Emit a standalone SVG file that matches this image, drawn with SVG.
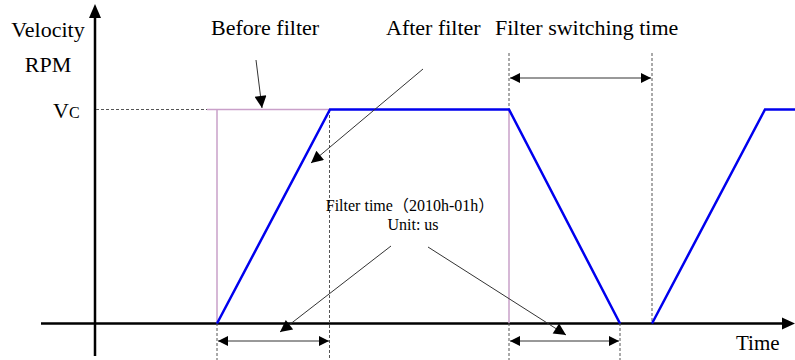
<svg xmlns="http://www.w3.org/2000/svg" width="795" height="360" viewBox="0 0 795 360">
<style>
text{font-family:"Liberation Serif","Times New Roman",serif;fill:#000}
.big{font-size:22px}
.small{font-size:16px}
.axis{stroke:#000;stroke-width:2.5;fill:none}
.dot{stroke:#555;stroke-width:1;stroke-dasharray:3,2;fill:none}
.pink{stroke:#c9a0c9;stroke-width:1.5;fill:none}
.blue{stroke:#0000ee;stroke-width:2.5;fill:none;stroke-linejoin:miter}
.thin{stroke:#333;stroke-width:1;fill:none}
</style>
<defs>
<marker id="ah" viewBox="0 0 10 10" refX="10" refY="5" markerWidth="14" markerHeight="10" markerUnits="userSpaceOnUse" orient="auto-start-reverse">
<path d="M0,0 L10,5 L0,10 z" fill="#000"/>
</marker>
<marker id="ahb" viewBox="0 0 10 10" refX="10" refY="5" markerWidth="16" markerHeight="12" markerUnits="userSpaceOnUse" orient="auto">
<path d="M0,0 L10,5 L0,10 z" fill="#000"/>
</marker>
</defs>
<g id="axes">
<line class="axis" x1="95" y1="356" x2="95" y2="18"/>
<path d="M95,4 L89,18 L101,18 z" fill="#000"/>
<line class="axis" x1="41" y1="323.5" x2="783" y2="323.5"/>
<path d="M795,323.5 L782,317.5 L782,329.5 z" fill="#000"/>
</g>
<g id="guides">
<line class="dot" x1="96" y1="109.5" x2="207" y2="109.5"/>
<line class="pink" x1="207" y1="109.5" x2="330" y2="109.5"/>
<line class="pink" x1="217" y1="109.5" x2="217" y2="323"/>
<line class="pink" x1="509" y1="109.5" x2="509" y2="323"/>
<line class="dot" x1="217" y1="323" x2="217" y2="360"/>
<line class="dot" x1="329.5" y1="110" x2="329.5" y2="360"/>
<line class="dot" x1="509" y1="53" x2="509" y2="109"/>
<line class="dot" x1="509" y1="323" x2="509" y2="360"/>
<line class="dot" x1="620" y1="323" x2="620" y2="360"/>
<line class="dot" x1="652" y1="53" x2="652" y2="323"/>
</g>
<g id="velocity">
<polyline class="blue" points="217,323.5 330,109.5 509,109.5 620,323.5"/>
<polyline class="blue" points="652,323.5 765,109.5 795,109.5"/>
</g>
<g id="connectors">
<line class="thin" x1="256" y1="60" x2="262" y2="108" marker-end="url(#ahb)"/>
<line class="thin" x1="423" y1="69" x2="311" y2="163" marker-end="url(#ahb)"/>
<line class="thin" x1="391" y1="246" x2="280" y2="332" marker-end="url(#ahb)"/>
<line class="thin" x1="428" y1="247" x2="566" y2="335" marker-end="url(#ahb)"/>
<line class="thin" x1="510" y1="78" x2="651" y2="78" marker-start="url(#ah)" marker-end="url(#ah)"/>
<line class="thin" x1="218" y1="341" x2="329" y2="341" marker-start="url(#ah)" marker-end="url(#ah)"/>
<line class="thin" x1="510" y1="341" x2="619" y2="341" marker-start="url(#ah)" marker-end="url(#ah)"/>
</g>
<g id="labels">
<text class="big" x="48" y="37" text-anchor="middle">Velocity</text>
<text class="big" x="48" y="72" text-anchor="middle">RPM</text>
<text x="53" y="118"><tspan font-size="22">V</tspan><tspan font-size="16">C</tspan></text>
<text class="big" x="211" y="35">Before filter</text>
<text class="big" x="386" y="35">After filter</text>
<text class="big" x="495" y="35">Filter switching time</text>
<text class="small" x="410" y="211" text-anchor="middle">Filter time<tspan font-family="'Noto Sans CJK SC',sans-serif">（</tspan>2010h-01h<tspan font-family="'Noto Sans CJK SC',sans-serif">）</tspan></text>
<text class="small" x="413" y="230" text-anchor="middle">Unit: us</text>
<text x="736" y="350" font-size="21">Time</text>
</g>
</svg>
